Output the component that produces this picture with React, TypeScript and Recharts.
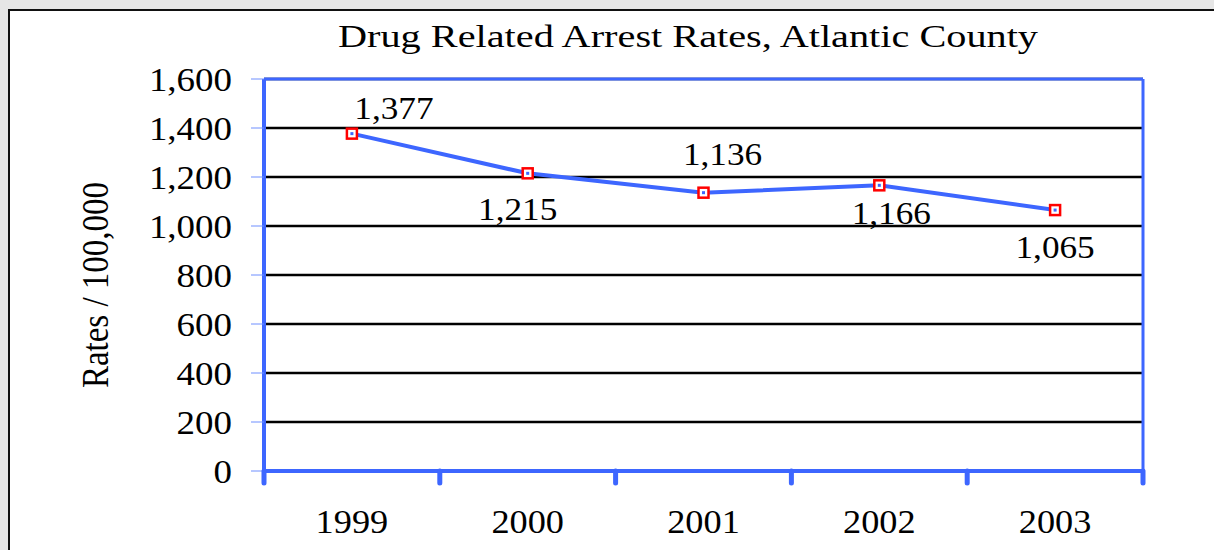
import React from 'react';
import { LineChart, Line, XAxis, YAxis, CartesianGrid, LabelList } from 'recharts';

const BLUE = '#3d66ff';
const FONT = '"Liberation Serif", "Times New Roman", serif';

const years = ['1999', '2000', '2001', '2002', '2003'];
const rates = [1377, 1215, 1136, 1166, 1065];
const yTicks = [0, 200, 400, 600, 800, 1000, 1200, 1400, 1600];

// where each value label sits relative to its point
const LABEL_OFFSETS = [
  { dx: 42, dy: -26 },
  { dx: -10, dy: 35 },
  { dx: 19, dy: -39 },
  { dx: 12, dy: 27 },
  { dx: 0, dy: 37 },
];

// points sit in the middle of each year's band
const data = years.map((year, i) => ({ year, x: i + 0.5, rate: rates[i] }));
const xTicks = years.flatMap((_, i) => [i, i + 0.5]).concat([years.length]);

const fmt = (v: number) => v.toLocaleString('en-US');

const YTick = ({ x, y, payload }: any) => (
  <text
    transform={`translate(${x},${y}) scale(1.12,1)`}
    textAnchor="end"
    dy="0.35em"
    fontFamily={FONT}
    fontSize={33}
    fill="#000"
  >
    {fmt(payload.value)}
  </text>
);

const XTick = ({ x, y, payload }: any) => {
  const v = payload.value;
  if (Number.isInteger(v)) {
    return (
      <line
        x1={x}
        x2={x}
        y1={y}
        y2={y + 12}
        stroke={BLUE}
        strokeWidth={5}
        strokeLinecap="round"
      />
    );
  }
  return (
    <text
      transform={`translate(${x},${y + 50}) scale(1.1,1)`}
      textAnchor="middle"
      dy="0.35em"
      fontFamily={FONT}
      fontSize={33}
      fill="#000"
    >
      {years[Math.floor(v)]}
    </text>
  );
};

const Marker = ({ cx, cy }: any) => (
  <g>
    <rect x={cx - 5} y={cy - 5} width={10} height={10} fill="#fff" stroke="#ff0000" strokeWidth={2.5} />
    <rect x={cx - 1.5} y={cy - 1.5} width={3} height={3} fill={BLUE} />
  </g>
);

const ValueLabel = ({ x, y, value, index }: any) => {
  const off = LABEL_OFFSETS[index] || { dx: 0, dy: -25 };
  return (
    <text
      transform={`translate(${x + off.dx},${y + off.dy}) scale(1.1,1)`}
      textAnchor="middle"
      dy="0.35em"
      fontFamily={FONT}
      fontSize={32}
      fill="#000"
    >
      {fmt(value)}
    </text>
  );
};

const App = () => {
  return (
    <div style={{ position: 'fixed', inset: 0, background: '#e6e6e6', overflow: 'hidden' }}>
      <div
        style={{
          position: 'absolute',
          left: 8,
          top: 9,
          width: 1230,
          height: 580,
          border: '2px solid #111',
          background: '#fff',
        }}
      />
      <div style={{ position: 'absolute', left: 0, top: 0 }}>
        <LineChart width={1214} height={550} data={data} margin={{ top: 0, right: 0, bottom: 0, left: 0 }}>
          <CartesianGrid vertical={false} stroke="#000" strokeWidth={2.5} />
          <XAxis
            xAxisId="top"
            orientation="top"
            dataKey="year"
            height={79}
            tick={false}
            tickLine={false}
            axisLine={{ stroke: BLUE, strokeWidth: 3 }}
          />
          <YAxis
            yAxisId="right"
            orientation="right"
            width={71}
            domain={[0, 1]}
            tick={false}
            tickLine={false}
            axisLine={{ stroke: BLUE, strokeWidth: 3 }}
          />
          <XAxis
            dataKey="x"
            type="number"
            domain={[0, years.length]}
            ticks={xTicks}
            interval={0}
            height={79}
            tickSize={0}
            tickMargin={0}
            tickLine={false}
            tick={<XTick />}
            axisLine={{ stroke: BLUE, strokeWidth: 4 }}
          />
          <YAxis
            width={264}
            domain={[0, 1600]}
            ticks={yTicks}
            interval={0}
            tickSize={13}
            tickMargin={19}
            tickLine={{ stroke: '#6f8fff', strokeWidth: 1 }}
            tick={<YTick />}
            axisLine={{ stroke: BLUE, strokeWidth: 4 }}
          />
          <Line
            dataKey="rate"
            stroke={BLUE}
            strokeWidth={4}
            dot={<Marker />}
            activeDot={false}
            isAnimationActive={false}
          >
            <LabelList dataKey="rate" content={<ValueLabel />} />
          </Line>
        </LineChart>
      </div>
      <svg
        width={1214}
        height={550}
        style={{ position: 'absolute', left: 0, top: 0, pointerEvents: 'none' }}
      >
        <text
          x={688}
          y={47}
          textAnchor="middle"
          fontFamily={FONT}
          fontSize={31}
          fill="#000"
          textLength={700}
          lengthAdjust="spacingAndGlyphs"
        >
          Drug Related Arrest Rates,  Atlantic County
        </text>
        <text
          transform="translate(95,285) scale(1.12,1) rotate(-90)"
          textAnchor="middle"
          dy="0.35em"
          fontFamily={FONT}
          fontSize={33}
          fill="#000"
        >
          Rates / 100,000
        </text>
      </svg>
    </div>
  );
};

export default App;
